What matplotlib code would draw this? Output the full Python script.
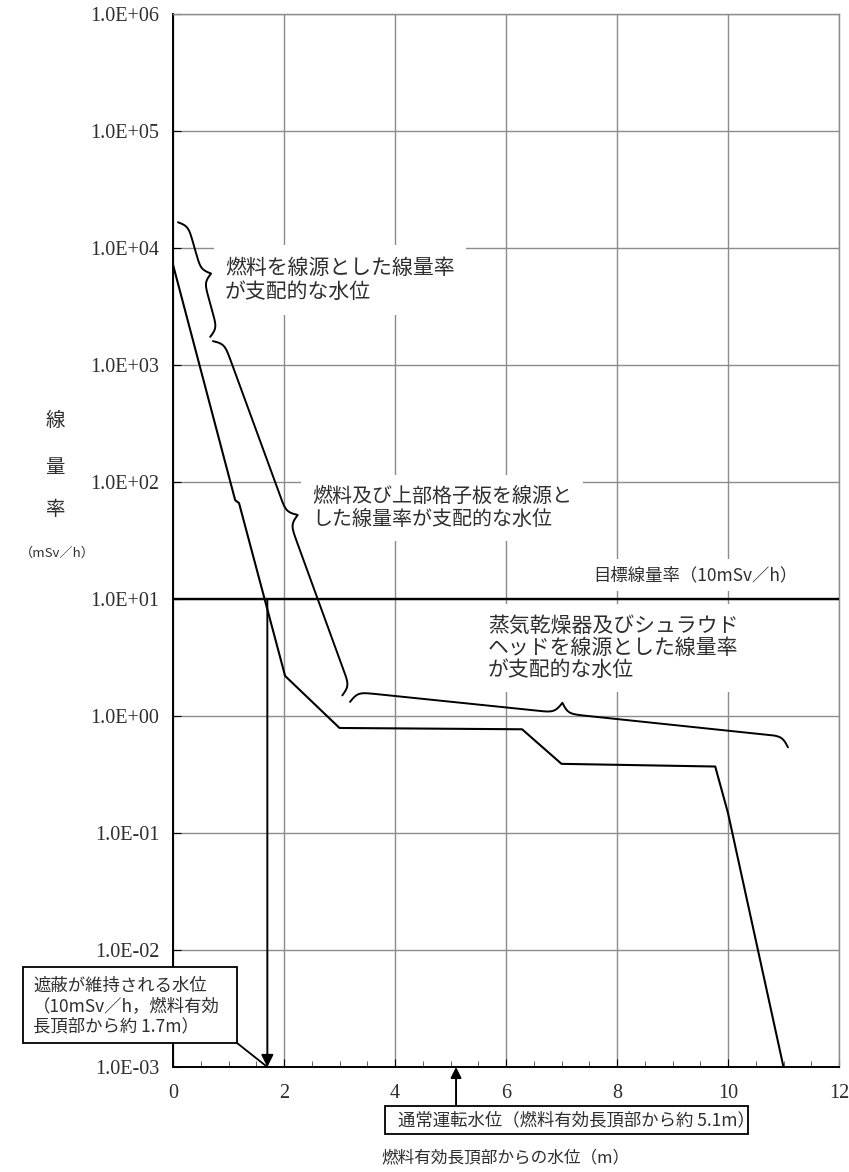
import numpy as np
import matplotlib
matplotlib.use("Agg")
import matplotlib.pyplot as plt
from matplotlib.patches import Rectangle
from matplotlib.lines import Line2D
from matplotlib.ticker import FixedLocator, FixedFormatter, MultipleLocator, NullLocator
from matplotlib.transforms import blended_transform_factory

# ---- data -------------------------------------------------------------
# water level above the top of active fuel (m) and dose rate (mSv/h)
level_m = [0.0, 1.12, 1.19, 2.02, 3.0, 6.29, 7.0, 9.77, 10.0, 11.0]
dose_mSv_h = [7200, 70, 66, 2.2, 0.79, 0.77, 0.39, 0.37, 0.148, 0.001]

TARGET_DOSE = 10.0      # target dose rate (mSv/h)
SHIELD_LEVEL = 1.7      # level where shielding is maintained (m)
NORMAL_LEVEL = 5.1      # normal operating water level (m)

x_ticks = [0, 2, 4, 6, 8, 10, 12]
x_tick_labels = ["0", "2", "4", "6", "8", "10", "12"]
y_ticks = [1e-3, 1e-2, 1e-1, 1e0, 1e1, 1e2, 1e3, 1e4, 1e5, 1e6]
y_tick_labels = ["1.0E-03", "1.0E-02", "1.0E-01", "1.0E+00", "1.0E+01",
                 "1.0E+02", "1.0E+03", "1.0E+04", "1.0E+05", "1.0E+06"]

# braces: (start, end, tip position along the brace)
brace_fuel = ((0.09, 16600), (0.67, 1740), 0.49)
brace_fuel_grid = ((0.72, 1600), (3.05, 1.5), 0.51)
brace_dryer = ((3.19, 1.32), (11.08, 0.54), 0.48)

label_fuel = "燃料を線源とした線量率\nが支配的な水位"
label_fuel_grid = "燃料及び上部格子板を線源と\nした線量率が支配的な水位"
label_dryer = "蒸気乾燥器及びシュラウド\nヘッドを線源とした線量率\nが支配的な水位"
label_target = "目標線量率（10mSv／h）"
label_shield = "遮蔽が維持される水位\n（10mSv／h，燃料有効\n長頂部から約 1.7m）"
label_normal = "通常運転水位（燃料有効長頂部から約 5.1m）"
x_title = "燃料有効長頂部からの水位（m）"
y_title_chars = ["線", "量", "率"]
y_unit = "（mSv／h）"

# ---- style ------------------------------------------------------------
JP = ["Noto Sans CJK JP", "DejaVu Sans"]
SERIF = ["Liberation Serif", "DejaVu Serif"]
TXT = "#2e2e2e"
GRID = "#8c8c8c"
plt.rcParams["font.family"] = SERIF
plt.rcParams["xtick.labelsize"] = 14.5
plt.rcParams["ytick.labelsize"] = 14.5

W, H = 849, 1172
fig = plt.figure(figsize=(W / 100, H / 100), dpi=100)


def fx(px):
    return px / W


def fy(py):
    return 1 - py / H


ax = fig.add_axes([fx(173), fy(1067), (839 - 173) / W, (1067 - 14) / H])
ax.set_yscale("log")
ax.set_xlim(0, 12)
ax.set_ylim(1e-3, 1e6)

ax.xaxis.set_major_locator(FixedLocator(x_ticks))
ax.xaxis.set_major_formatter(FixedFormatter(x_tick_labels))
ax.xaxis.set_minor_locator(MultipleLocator(0.5))
ax.yaxis.set_major_locator(FixedLocator(y_ticks))
ax.yaxis.set_major_formatter(FixedFormatter(y_tick_labels))
ax.yaxis.set_minor_locator(NullLocator())

ax.grid(True, which="major", color=GRID, lw=1.0)
ax.set_axisbelow(True)
ax.tick_params(axis="both", which="major", direction="in", length=6,
               color="black", labelcolor=TXT)
ax.tick_params(axis="x", which="major", pad=12)
ax.tick_params(axis="y", which="major", pad=10)
ax.tick_params(axis="x", which="minor", direction="in", length=4, color="#444444")

for side in ("left", "bottom"):
    ax.spines[side].set_color("black")
    ax.spines[side].set_linewidth(1.4)
for side in ("top", "right"):
    ax.spines[side].set_color(GRID)
    ax.spines[side].set_linewidth(1.0)

# dose-rate curve and target level
ax.plot(level_m, dose_mSv_h, color="black", lw=1.5, zorder=3)
ax.axhline(TARGET_DOSE, color="black", lw=1.7, zorder=3)

# arrow at the shielding level
ax.annotate("", xy=(SHIELD_LEVEL, 1e-3), xytext=(SHIELD_LEVEL, TARGET_DOSE),
            arrowprops=dict(arrowstyle="-|>", color="black", lw=1.4,
                            mutation_scale=18, shrinkA=0, shrinkB=0),
            zorder=4)


def draw_brace(p0, p1, tip, width_px=20, beta=0.3):
    a = ax.transData.transform(p0)
    b = ax.transData.transform(p1)
    d = b - a
    L = np.hypot(*d)
    u = d / L
    n = np.array([-u[1], u[0]])

    def half(length):
        s = np.linspace(0, length, 300)
        prof = (1 / (1 + np.exp(-beta * s))
                + 1 / (1 + np.exp(-beta * (s - length))) - 0.5)
        return s, prof

    m = tip * L
    s1, q1 = half(m)
    s2, q2 = half(L - m)
    s = np.concatenate([s1, L - s2[::-1]])
    q = np.concatenate([q1, q2[::-1]])
    pts = a + np.outer(s, u) + np.outer(q * width_px, n)
    data = ax.transData.inverted().transform(pts)
    ax.plot(data[:, 0], data[:, 1], color="black", lw=1.4, zorder=3,
            solid_capstyle="round")


draw_brace(*brace_fuel, width_px=18)
draw_brace(*brace_fuel_grid, width_px=20)
draw_brace(*brace_dryer, width_px=21)

# region labels (white boxes interrupt the grid)
box_kw = dict(boxstyle="square,pad=0.55", fc="white", ec="none")
ax.text(fx(225), fy(280), label_fuel, transform=fig.transFigure, ha="left",
        va="center", fontsize=15, family=JP, color=TXT, linespacing=1.17,
        bbox=box_kw, zorder=2)
ax.text(fx(312), fy(508), label_fuel_grid, transform=fig.transFigure, ha="left",
        va="center", fontsize=14.4, family=JP, color=TXT, linespacing=1.12,
        bbox=box_kw, zorder=2)
ax.text(fx(488), fy(648), label_dryer, transform=fig.transFigure, ha="left",
        va="center", fontsize=15, family=JP, color=TXT, linespacing=1.0,
        bbox=box_kw, zorder=2)
ax.text(fx(593), fy(575), label_target, transform=fig.transFigure, ha="left",
        va="center", fontsize=12.5, family=JP, color=TXT,
        bbox=dict(boxstyle="square,pad=0.4", fc="white", ec="none"), zorder=2)

# y-axis title, stacked vertically
for ch, ypx in zip(y_title_chars, [420, 467, 510]):
    fig.text(fx(55), fy(ypx), ch, ha="center", va="center", fontsize=14,
             family=JP, color=TXT)
fig.text(fx(57), fy(553), y_unit, ha="center", va="center", fontsize=9.5,
         family=JP, color=TXT)

# x-axis title
fig.text(fx(506), fy(1158), x_title, ha="center", va="center", fontsize=12,
         family=JP, color=TXT)

# callout for the shielding level
fig.add_artist(Rectangle((fx(23), fy(1043)), (237 - 23) / W, (1043 - 967) / H,
                         transform=fig.transFigure, fc="white", ec="black",
                         lw=1.3, zorder=5))
tip = fig.transFigure.inverted().transform(
    ax.transData.transform((SHIELD_LEVEL, 1e-3)))
fig.add_artist(Line2D([fx(237), tip[0]], [fy(1043), tip[1]],
                      transform=fig.transFigure, color="black", lw=1.3, zorder=5))
fig.text(fx(33), fy(1006), label_shield, ha="left", va="center", fontsize=12.5,
         family=JP, color=TXT, linespacing=1.15, zorder=6)

# normal operating level box and arrow
fig.add_artist(Rectangle((fx(385), fy(1134)), (748 - 385) / W, (1134 - 1106) / H,
                         transform=fig.transFigure, fc="white", ec="black",
                         lw=1.3, zorder=5))
fig.text(fx(398), fy(1120), label_normal, ha="left", va="center", fontsize=12.5,
         family=JP, color=TXT, zorder=6)
blend = blended_transform_factory(ax.transData, fig.transFigure)
ax.annotate("", xy=(NORMAL_LEVEL, 1e-3), xytext=(NORMAL_LEVEL, fy(1106)),
            textcoords=blend,
            arrowprops=dict(arrowstyle="-|>", color="black", lw=1.4,
                            mutation_scale=16, shrinkA=0, shrinkB=0),
            annotation_clip=False, zorder=4)

fig.savefig("out.png", dpi=100, facecolor="white")
